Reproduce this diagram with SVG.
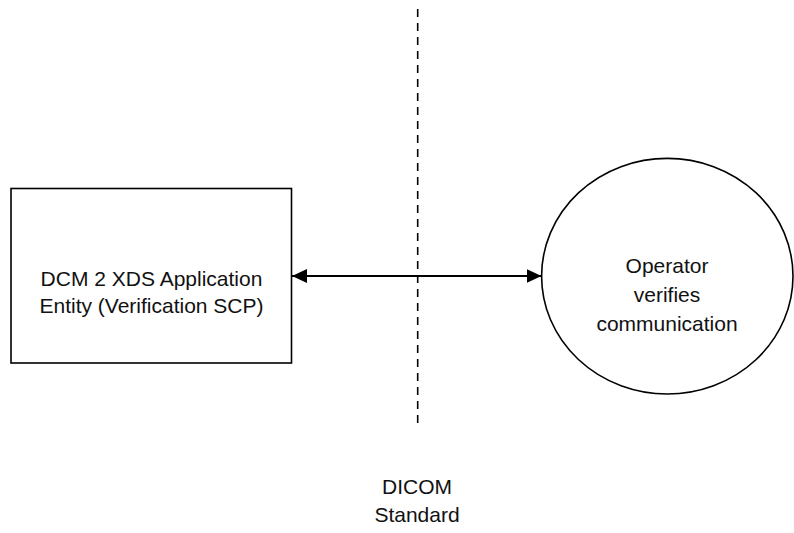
<svg xmlns="http://www.w3.org/2000/svg" width="794" height="533" viewBox="0 0 794 533">
<style>
.shape{fill:#fff;stroke:#000;stroke-width:1.6}
.lbl{font-family:"Liberation Sans",Arial,sans-serif;font-size:21px;fill:#111;text-anchor:middle}
.conn{stroke:#000;stroke-width:2;fill:none}
.dash{stroke:#000;stroke-width:1.6;stroke-dasharray:8 6;fill:none}
</style>
<defs>
<marker id="ah" markerUnits="userSpaceOnUse" markerWidth="16" markerHeight="14" refX="15" refY="7" orient="auto-start-reverse" viewBox="0 0 16 14">
<path d="M0,0 L15,7 L0,14 Z" fill="#000"/>
</marker>
</defs>
<rect width="794" height="533" fill="#fff"/>
<g id="boundary">
<line class="dash" x1="417.7" y1="9" x2="417.7" y2="424"/>
<text class="lbl" x="417" y="494">DICOM</text>
<text class="lbl" x="417" y="522">Standard</text>
</g>
<g id="ae">
<rect class="shape" x="11" y="188.5" width="280.5" height="174.5"/>
<text class="lbl" x="151.5" y="286">DCM 2 XDS Application</text>
<text class="lbl" x="151.5" y="313">Entity (Verification SCP)</text>
</g>
<g id="operator">
<ellipse class="shape" cx="667.3" cy="276.2" rx="125.7" ry="117.8"/>
<text class="lbl" x="667" y="272.5">Operator</text>
<text class="lbl" x="667" y="301.5">verifies</text>
<text class="lbl" x="667" y="331">communication</text>
</g>
<g id="connectors">
<line class="conn" x1="292" y1="276" x2="541.5" y2="276" marker-start="url(#ah)" marker-end="url(#ah)"/>
</g>
</svg>
